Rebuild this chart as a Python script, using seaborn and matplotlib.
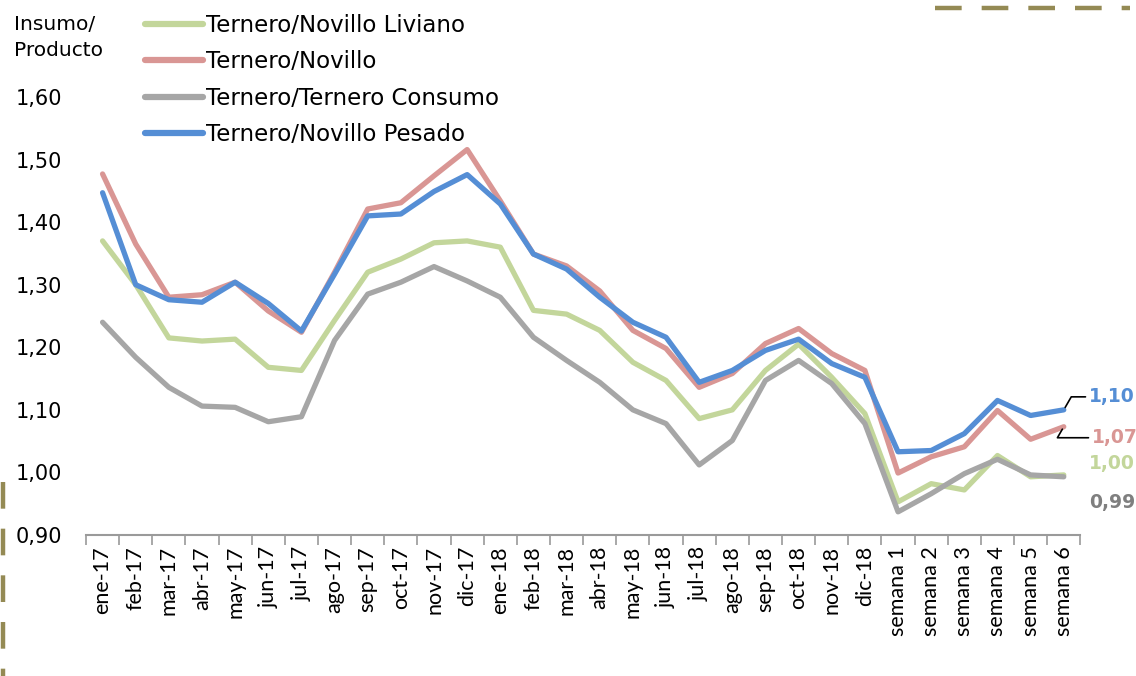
import numpy as np
import pandas as pd
import seaborn as sns
import matplotlib.pyplot as plt
from matplotlib.lines import Line2D

# categories (x axis)
meses = ['ene-17', 'feb-17', 'mar-17', 'abr-17', 'may-17', 'jun-17', 'jul-17',
         'ago-17', 'sep-17', 'oct-17', 'nov-17', 'dic-17', 'ene-18', 'feb-18',
         'mar-18', 'abr-18', 'may-18', 'jun-18', 'jul-18', 'ago-18', 'sep-18',
         'oct-18', 'nov-18', 'dic-18', 'semana 1', 'semana 2', 'semana 3',
         'semana 4', 'semana 5', 'semana 6']

# series values
liviano = [1.37, 1.30, 1.215, 1.21, 1.213, 1.168, 1.163, 1.243, 1.32, 1.341,
           1.367, 1.37, 1.36, 1.259, 1.253, 1.227, 1.176, 1.147, 1.086, 1.10,
           1.163, 1.205, 1.152, 1.094, 0.953, 0.982, 0.972, 1.027, 0.993, 0.996]
novillo = [1.477, 1.365, 1.28, 1.284, 1.304, 1.258, 1.224, 1.32, 1.421, 1.431,
           1.474, 1.516, 1.434, 1.349, 1.33, 1.29, 1.227, 1.198, 1.136, 1.158,
           1.206, 1.23, 1.19, 1.163, 0.999, 1.025, 1.041, 1.099, 1.053, 1.073]
consumo = [1.24, 1.184, 1.136, 1.106, 1.104, 1.081, 1.089, 1.211, 1.285, 1.304,
           1.329, 1.306, 1.28, 1.216, 1.179, 1.144, 1.10, 1.078, 1.012, 1.051,
           1.147, 1.179, 1.142, 1.078, 0.937, 0.966, 0.998, 1.021, 0.996, 0.993]
pesado = [1.447, 1.30, 1.276, 1.272, 1.304, 1.27, 1.226, 1.317, 1.41, 1.413,
          1.449, 1.476, 1.429, 1.349, 1.325, 1.28, 1.24, 1.216, 1.144, 1.163,
          1.195, 1.213, 1.174, 1.152, 1.033, 1.035, 1.062, 1.115, 1.091, 1.10]

series = ['Ternero/Novillo Liviano', 'Ternero/Novillo',
          'Ternero/Ternero Consumo', 'Ternero/Novillo Pesado']
colores = ['#C3D69B', '#D99694', '#A6A6A6', '#558ED5']

df = pd.DataFrame({'pos': np.arange(len(meses)), 'mes': meses,
                   series[0]: liviano, series[1]: novillo,
                   series[2]: consumo, series[3]: pesado})
largo = df.melt(id_vars=['pos', 'mes'], value_vars=series,
                var_name='serie', value_name='valor')

sns.set_style('white')
plt.rcParams['font.family'] = ['DejaVu Sans']
plt.rcParams['text.color'] = 'black'
plt.rcParams['xtick.labelcolor'] = 'black'
plt.rcParams['ytick.labelcolor'] = 'black'

fig = plt.figure(figsize=(11.36, 6.76), dpi=100)
ax = fig.add_axes([0.0757, 0.2086, 0.8753, 0.6479])

sns.lineplot(data=largo, x='pos', y='valor', hue='serie', hue_order=series,
             palette=colores, linewidth=3.8, sort=False, ax=ax, legend=False)
for ln in ax.get_lines():
    ln.set_solid_joinstyle('round')
    ln.set_solid_capstyle('round')

ax.set_xlim(-0.5, len(meses) - 0.5)
ax.set_ylim(0.90, 1.60)
ax.set_xlabel('')
ax.set_ylabel('')

yt = np.round(np.arange(0.90, 1.601, 0.10), 2)
ax.set_yticks(yt)
ax.set_yticklabels([f'{v:.2f}'.replace('.', ',') for v in yt], fontsize=15)
ax.tick_params(axis='y', length=0, pad=17, labelcolor='black')

ax.set_xticks(df['pos'])
ax.set_xticklabels(meses, rotation=90, fontsize=15.5, family=['Lato', 'DejaVu Sans'])
ax.set_xticks(np.arange(-0.5, len(meses), 1), minor=True)
ax.tick_params(axis='x', which='major', length=0, pad=8, labelcolor='black')
ax.tick_params(axis='x', which='minor', length=7, width=1.2, color='#9a9a9a',
               direction='out', bottom=True)

for s in ['top', 'right', 'left']:
    ax.spines[s].set_visible(False)
ax.spines['bottom'].set_color('#9a9a9a')
ax.spines['bottom'].set_linewidth(1.5)

# legend
handles = [Line2D([0], [0], color=c, lw=4.5, solid_capstyle='round') for c in colores]
leg = fig.legend(handles, series, loc='upper left', bbox_to_anchor=(0.128, 0.979),
                 frameon=False, fontsize=16.5, handlelength=2.5, handletextpad=0.15,
                 labelspacing=0.58, borderpad=0, borderaxespad=0)
for t in leg.get_texts():
    t.set_color('black')

fig.text(0.012, 0.978, 'Insumo/\nProducto', fontsize=14.5, va='top', ha='left',
         linespacing=1.45, color='black')

# end labels
ult = len(meses) - 1
offs = [(25, 11), (28, -11), (25, -26), (25, 13)]
vals = [liviano[ult], novillo[ult], consumo[ult], pesado[ult]]
for i, (v, c, o) in enumerate(zip(vals, colores, offs)):
    lab = f'{v:.2f}'.replace('.', ',')
    col = '#7f7f7f' if i == 2 else c
    if i in (1, 3):
        ax.annotate(lab, xy=(ult, v), xytext=o, textcoords='offset pixels',
                    fontsize=13.5, fontweight='bold', color=col, va='center',
                    ha='left',
                    arrowprops=dict(arrowstyle='-', color='black', lw=1.2,
                                    shrinkA=0, shrinkB=2,
                                    connectionstyle='angle,angleA=0,angleB=60,rad=0'))
    else:
        ax.annotate(lab, xy=(ult, v), xytext=o, textcoords='offset pixels',
                    fontsize=13.5, fontweight='bold', color=col, va='center',
                    ha='left')

# decorative dashed lines
oliva = '#948A54'
fig.add_artist(Line2D([935 / 1136, 1130 / 1136], [1 - 8 / 676, 1 - 8 / 676],
                      color=oliva, lw=3.2, dashes=(6, 4.5)))
fig.add_artist(Line2D([3 / 1136, 3 / 1136], [1 - 482 / 676, 0],
                      color=oliva, lw=3.2, dashes=(6, 4.5)))

fig.savefig('out.png', dpi=100)
